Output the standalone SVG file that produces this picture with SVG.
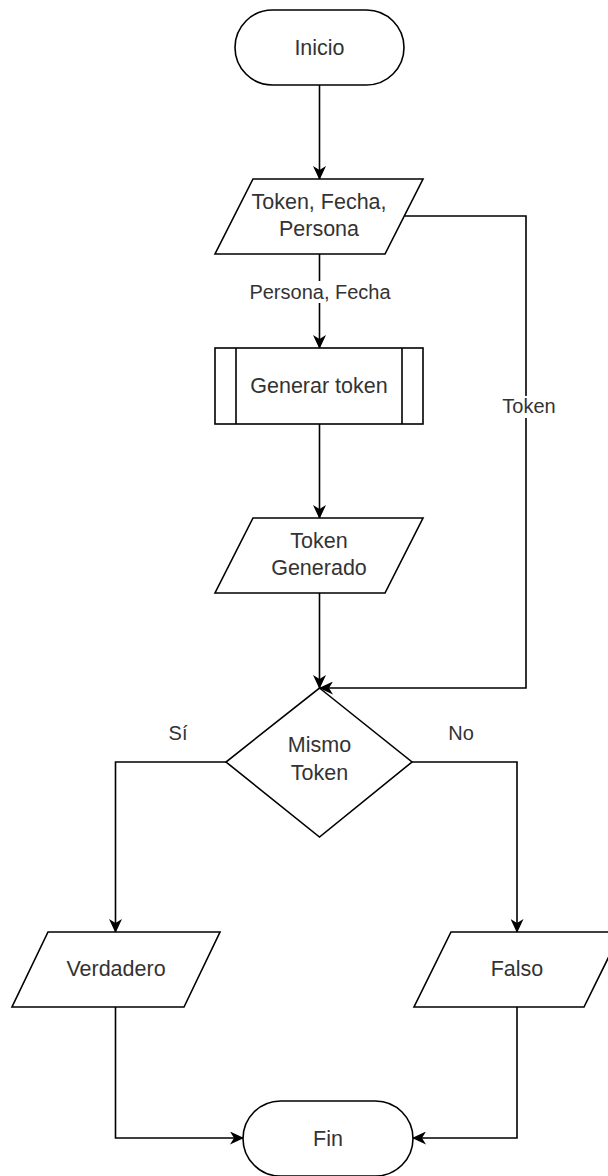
<svg xmlns="http://www.w3.org/2000/svg" width="608" height="1176" viewBox="0 0 608 1176">
<style>
.shape{fill:#ffffff;stroke:#000000;stroke-width:1.6}
.edge{fill:none;stroke:#000000;stroke-width:1.6}
.t{font-family:"Liberation Sans",Arial,sans-serif;font-size:21.5px;fill:#333333;text-anchor:middle}
.lbl{font-family:"Liberation Sans",Arial,sans-serif;font-size:20px;fill:#333333;text-anchor:middle}
.bg{fill:#ffffff;stroke:none}
</style>
<defs>
<marker id="arr" viewBox="0 0 14 13" refX="13" refY="6.5" markerWidth="14" markerHeight="13" markerUnits="userSpaceOnUse" orient="auto">
<path d="M0,0 L14,6.5 L0,13 L4,6.5 z" fill="#000000"/>
</marker>
</defs>
<rect width="608" height="1176" fill="#ffffff"/>
<g id="connectors">
<path class="edge" d="M319.5,85 V179" marker-end="url(#arr)"/>
<path class="edge" d="M319.5,254 V348" marker-end="url(#arr)"/>
<path class="edge" d="M319.5,424 V518" marker-end="url(#arr)"/>
<path class="edge" d="M319.5,593 V688" marker-end="url(#arr)"/>
<path class="edge" d="M405,216 H526 V688 H320" marker-end="url(#arr)"/>
<path class="edge" d="M226,762 H115.5 V932" marker-end="url(#arr)"/>
<path class="edge" d="M412,762 H517 V932" marker-end="url(#arr)"/>
<path class="edge" d="M115.5,1007 V1138 H243" marker-end="url(#arr)"/>
<path class="edge" d="M517,1007 V1138 H413" marker-end="url(#arr)"/>
<rect class="bg" x="245" y="281" width="150" height="22"/>
<text class="lbl" x="320" y="299">Persona, Fecha</text>
<rect class="bg" x="500" y="396" width="58" height="22"/>
<text class="lbl" x="529" y="413">Token</text>
<text class="lbl" x="178" y="740">Sí</text>
<text class="lbl" x="461" y="740">No</text>
</g>
<g id="inicio">
<rect class="shape" x="235" y="10" width="169" height="75" rx="37.5" ry="37.5"/>
<text class="t" x="319.5" y="55">Inicio</text>
</g>
<g id="entrada">
<polygon class="shape" points="253,179 423,179 385,254 215,254"/>
<text class="t" x="319" y="209">Token, Fecha,</text>
<text class="t" x="319" y="236">Persona</text>
</g>
<g id="generar">
<rect class="shape" x="215" y="348" width="208" height="76"/>
<line class="shape" x1="236" y1="348" x2="236" y2="424"/>
<line class="shape" x1="402" y1="348" x2="402" y2="424"/>
<text class="t" x="319" y="393">Generar token</text>
</g>
<g id="generado">
<polygon class="shape" points="253,518 423,518 385,593 215,593"/>
<text class="t" x="319" y="548">Token</text>
<text class="t" x="319" y="575">Generado</text>
</g>
<g id="decision">
<polygon class="shape" points="319.5,688 412,762 319.5,837 226,762"/>
<text class="t" x="319.5" y="752">Mismo</text>
<text class="t" x="319.5" y="780">Token</text>
</g>
<g id="verdadero">
<polygon class="shape" points="48,932 220,932 184,1007 12,1007"/>
<text class="t" x="116" y="976">Verdadero</text>
</g>
<g id="falso">
<polygon class="shape" points="451,932 621,932 584,1007 414,1007"/>
<text class="t" x="517" y="976">Falso</text>
</g>
<g id="fin">
<rect class="shape" x="243" y="1101" width="170" height="75" rx="37.5" ry="37.5"/>
<text class="t" x="328" y="1146">Fin</text>
</g>
</svg>
